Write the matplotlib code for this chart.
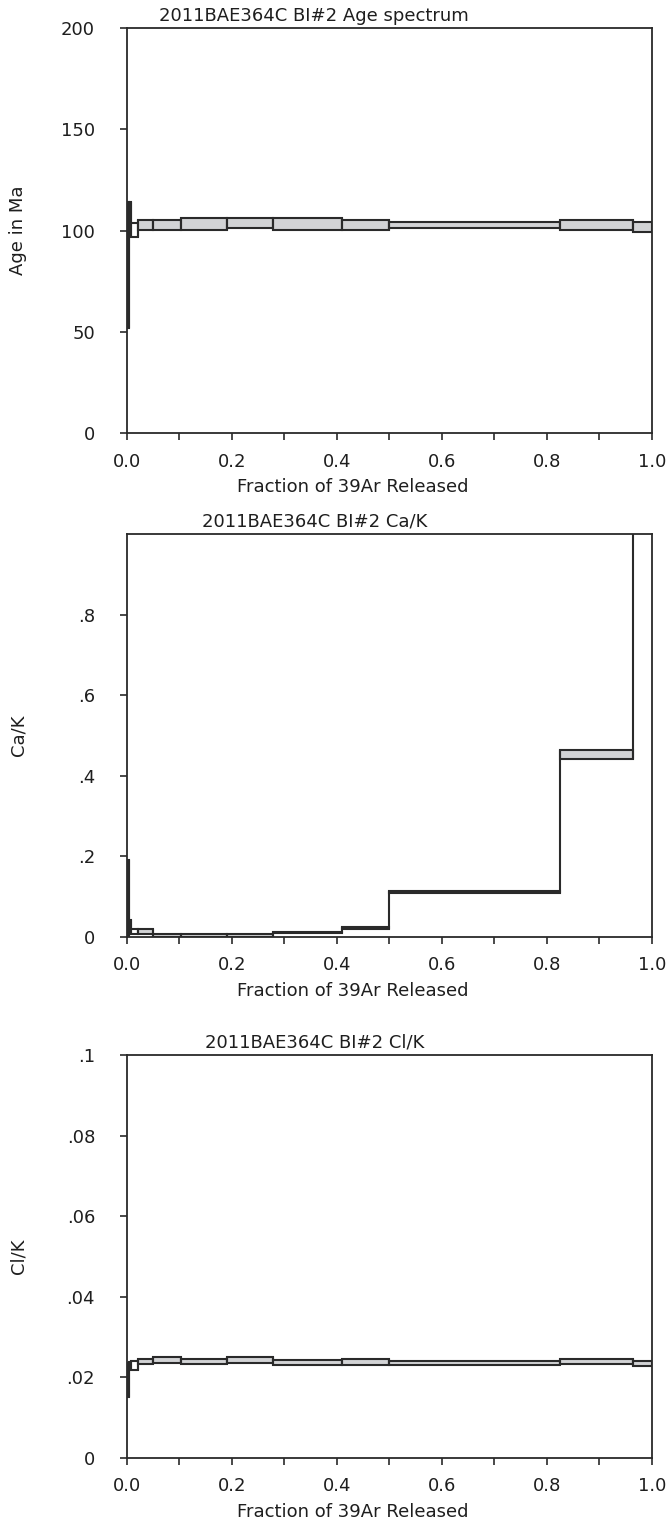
import matplotlib
matplotlib.use("Agg")
import matplotlib.pyplot as plt
from matplotlib.patches import Rectangle
from matplotlib.ticker import FuncFormatter, MultipleLocator

plt.rcParams['font.family'] = ['DejaVu Sans']

# step boundaries (cumulative fraction of 39Ar released)
step_edges = [0.0, 0.003, 0.007, 0.020, 0.049, 0.102, 0.190, 0.279, 0.409, 0.500, 0.825, 0.964, 1.0]

# age spectrum (Ma), half widths of the boxes
age = [83.0, 106.0, 100.2, 102.7, 102.7, 103.2, 103.9, 103.2, 102.6, 102.7, 102.7, 101.7]
age_err = [31.0, 8.0, 3.4, 2.5, 2.5, 3.0, 2.5, 3.1, 2.5, 1.3, 2.5, 2.6]

# Ca/K
cak = [0.095, 0.030, 0.013, 0.013, 0.004, 0.004, 0.004, 0.011, 0.023, 0.112, 0.452, 1.6]
cak_err = [0.095, 0.012, 0.006, 0.006, 0.004, 0.004, 0.004, 0.0015, 0.002, 0.002, 0.011, 0.05]

# Cl/K
clk = [0.0193, 0.0230, 0.0229, 0.0240, 0.0243, 0.0240, 0.0243, 0.0237, 0.0238, 0.0235, 0.0239, 0.0235]
clk_err = [0.0043, 0.0008, 0.0012, 0.0006, 0.0008, 0.0006, 0.0008, 0.0007, 0.0007, 0.0005, 0.0006, 0.0006]

titles = ["2011BAE364C BI#2 Age spectrum", "2011BAE364C BI#2 Ca/K", "2011BAE364C BI#2 Cl/K"]
ylabels = ["Age in Ma", "Ca/K", "Cl/K"]

EDGE = "#2a2a2a"
FILL = "#d2d3d5"
TXT = "#1e1e1e"


def no_lead_zero(v, pos):
    if abs(v) < 1e-12:
        return "0"
    s = ("%.2f" % v).rstrip("0").rstrip(".")
    return s.replace("0.", ".", 1) if s.startswith("0.") else s


def draw_spectrum(ax, vals, errs):
    for i in range(len(vals)):
        x0, x1 = step_edges[i], step_edges[i + 1]
        lo, hi = vals[i] - errs[i], vals[i] + errs[i]
        face = "white" if x1 <= 0.02 else FILL
        ax.add_patch(Rectangle((x0, lo), x1 - x0, hi - lo, facecolor=face,
                               edgecolor=EDGE, linewidth=1.5, zorder=3))
        if i > 0:
            plo, phi = vals[i - 1] - errs[i - 1], vals[i - 1] + errs[i - 1]
            ax.vlines(x0, min(lo, plo), max(hi, phi), color=EDGE, linewidth=1.5, zorder=3)


fig = plt.figure(figsize=(6.66, 15.26), dpi=100)

boxes = [
    [0.1907, 0.7162, 0.788, 0.2655],
    [0.1907, 0.3860, 0.788, 0.2641],
    [0.1907, 0.0446, 0.788, 0.2641],
]
series = [(age, age_err), (cak, cak_err), (clk, clk_err)]
ylims = [(0, 200), (0, 1.0), (0, 0.1)]
yticks = [[0, 50, 100, 150, 200], [0, 0.2, 0.4, 0.6, 0.8], [0, 0.02, 0.04, 0.06, 0.08, 0.1]]

for k in range(3):
    ax = fig.add_axes(boxes[k])
    vals, errs = series[k]
    draw_spectrum(ax, vals, errs)
    ax.set_xlim(0, 1)
    ax.set_ylim(*ylims[k])
    ax.set_yticks(yticks[k])
    ax.xaxis.set_major_locator(MultipleLocator(0.1))
    ax.xaxis.set_major_formatter(FuncFormatter(lambda v, p: "%.1f" % v if round(v * 10) % 2 == 0 else ""))
    if k > 0:
        ax.yaxis.set_major_formatter(FuncFormatter(no_lead_zero))
    ax.tick_params(direction="out", length=5, width=1.2, colors=EDGE, labelcolor=TXT,
                   labelsize=13)
    ax.tick_params(axis="x", pad=9)
    ax.tick_params(axis="y", pad=18)
    for sp in ax.spines.values():
        sp.set_linewidth(1.3)
        sp.set_color(EDGE)
    ax.set_xlabel("Fraction of 39Ar Released", fontsize=13, color=TXT)
    ax.xaxis.set_label_coords(0.431, -0.112)
    ax.set_ylabel(ylabels[k], fontsize=13, color=TXT)
    ax.yaxis.set_label_coords(-0.19, 0.5)
    ax.text(0.357, 1.008, titles[k], transform=ax.transAxes, ha="center", va="bottom",
            fontsize=13, color=TXT)

fig.savefig("out.png", dpi=100)
